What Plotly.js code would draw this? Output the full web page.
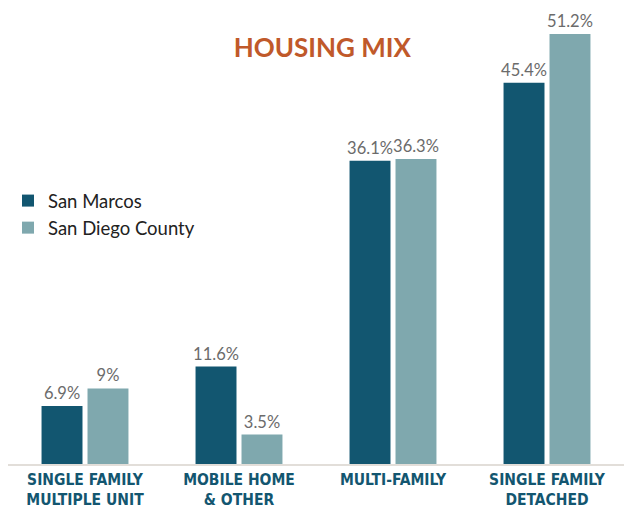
<!DOCTYPE html>
<html>
<head>
<meta charset="utf-8">
<script src="https://cdn.plot.ly/plotly-3.0.1.min.js"></script>
<style>html,body{margin:0;padding:0;background:#fff;}#chart{width:632px;height:508px;}</style>
</head>
<body>
<div id="chart"></div>
<script>
const categories = ["SINGLE FAMILY<br>MULTIPLE UNIT", "MOBILE HOME<br>& OTHER", "MULTI-FAMILY", "SINGLE FAMILY<br>DETACHED"];
const sanMarcos = [6.9, 11.6, 36.1, 45.4];
const sanDiego = [9, 3.5, 36.3, 51.2];
const sanMarcosLabels = ["6.9%", "11.6%", "36.1%", "45.4%"];
const sanDiegoLabels = ["9%", "3.5%", "36.3%", "51.2%"];

const labelFont = {family: "Lato, 'Noto Sans', sans-serif", size: 16.5, color: "#6b6b6b"};

const traces = [
  {type: "bar", name: "San Marcos", x: categories, y: sanMarcos, text: sanMarcosLabels,
   textposition: "outside", constraintext: "none", textfont: labelFont, cliponaxis: false, hoverinfo: "none",
   marker: {color: "#125670"}},
  {type: "bar", name: "San Diego County", x: categories, y: sanDiego, text: sanDiegoLabels,
   textposition: "outside", constraintext: "none", textfont: labelFont, cliponaxis: false, hoverinfo: "none",
   marker: {color: "#7fa8ae"}}
];

const layout = {
  width: 632, height: 508,
  margin: {l: 8, r: 8, t: 20, b: 44},
  paper_bgcolor: "#fff", plot_bgcolor: "#fff",
  barmode: "group", bargap: 0.403, bargroupgap: 0.109,
  title: {text: "<b>HOUSING MIX</b>", x: 0.51, xanchor: "center", y: 0.905, yanchor: "middle",
          font: {family: "Lato, 'Noto Sans', sans-serif", size: 26, color: "#c0592a"}},
  xaxis: {showline: true, linecolor: "#e2ded9", linewidth: 2, showgrid: false, zeroline: false,
          ticks: "", tickangle: 0, automargin: false,
          tickfont: {family: "'DejaVu Sans Condensed', 'Liberation Sans Narrow', Lato, sans-serif", size: 15.5, color: "#135670", weight: "bold"},
          fixedrange: true},
  yaxis: {range: [0, 52.86], visible: false, showgrid: false, zeroline: false, fixedrange: true},
  showlegend: true,
  legend: {x: 0, xanchor: "left", y: 0.635, yanchor: "top", bgcolor: "rgba(0,0,0,0)",
           font: {family: "Lato, 'Noto Sans', sans-serif", size: 18.5, color: "#222"},
           itemwidth: 30, tracegroupgap: 2},
  font: {family: "Lato, sans-serif"}
};

Plotly.newPlot("chart", traces, layout, {displayModeBar: false, staticPlot: true});
</script>
</body>
</html>
